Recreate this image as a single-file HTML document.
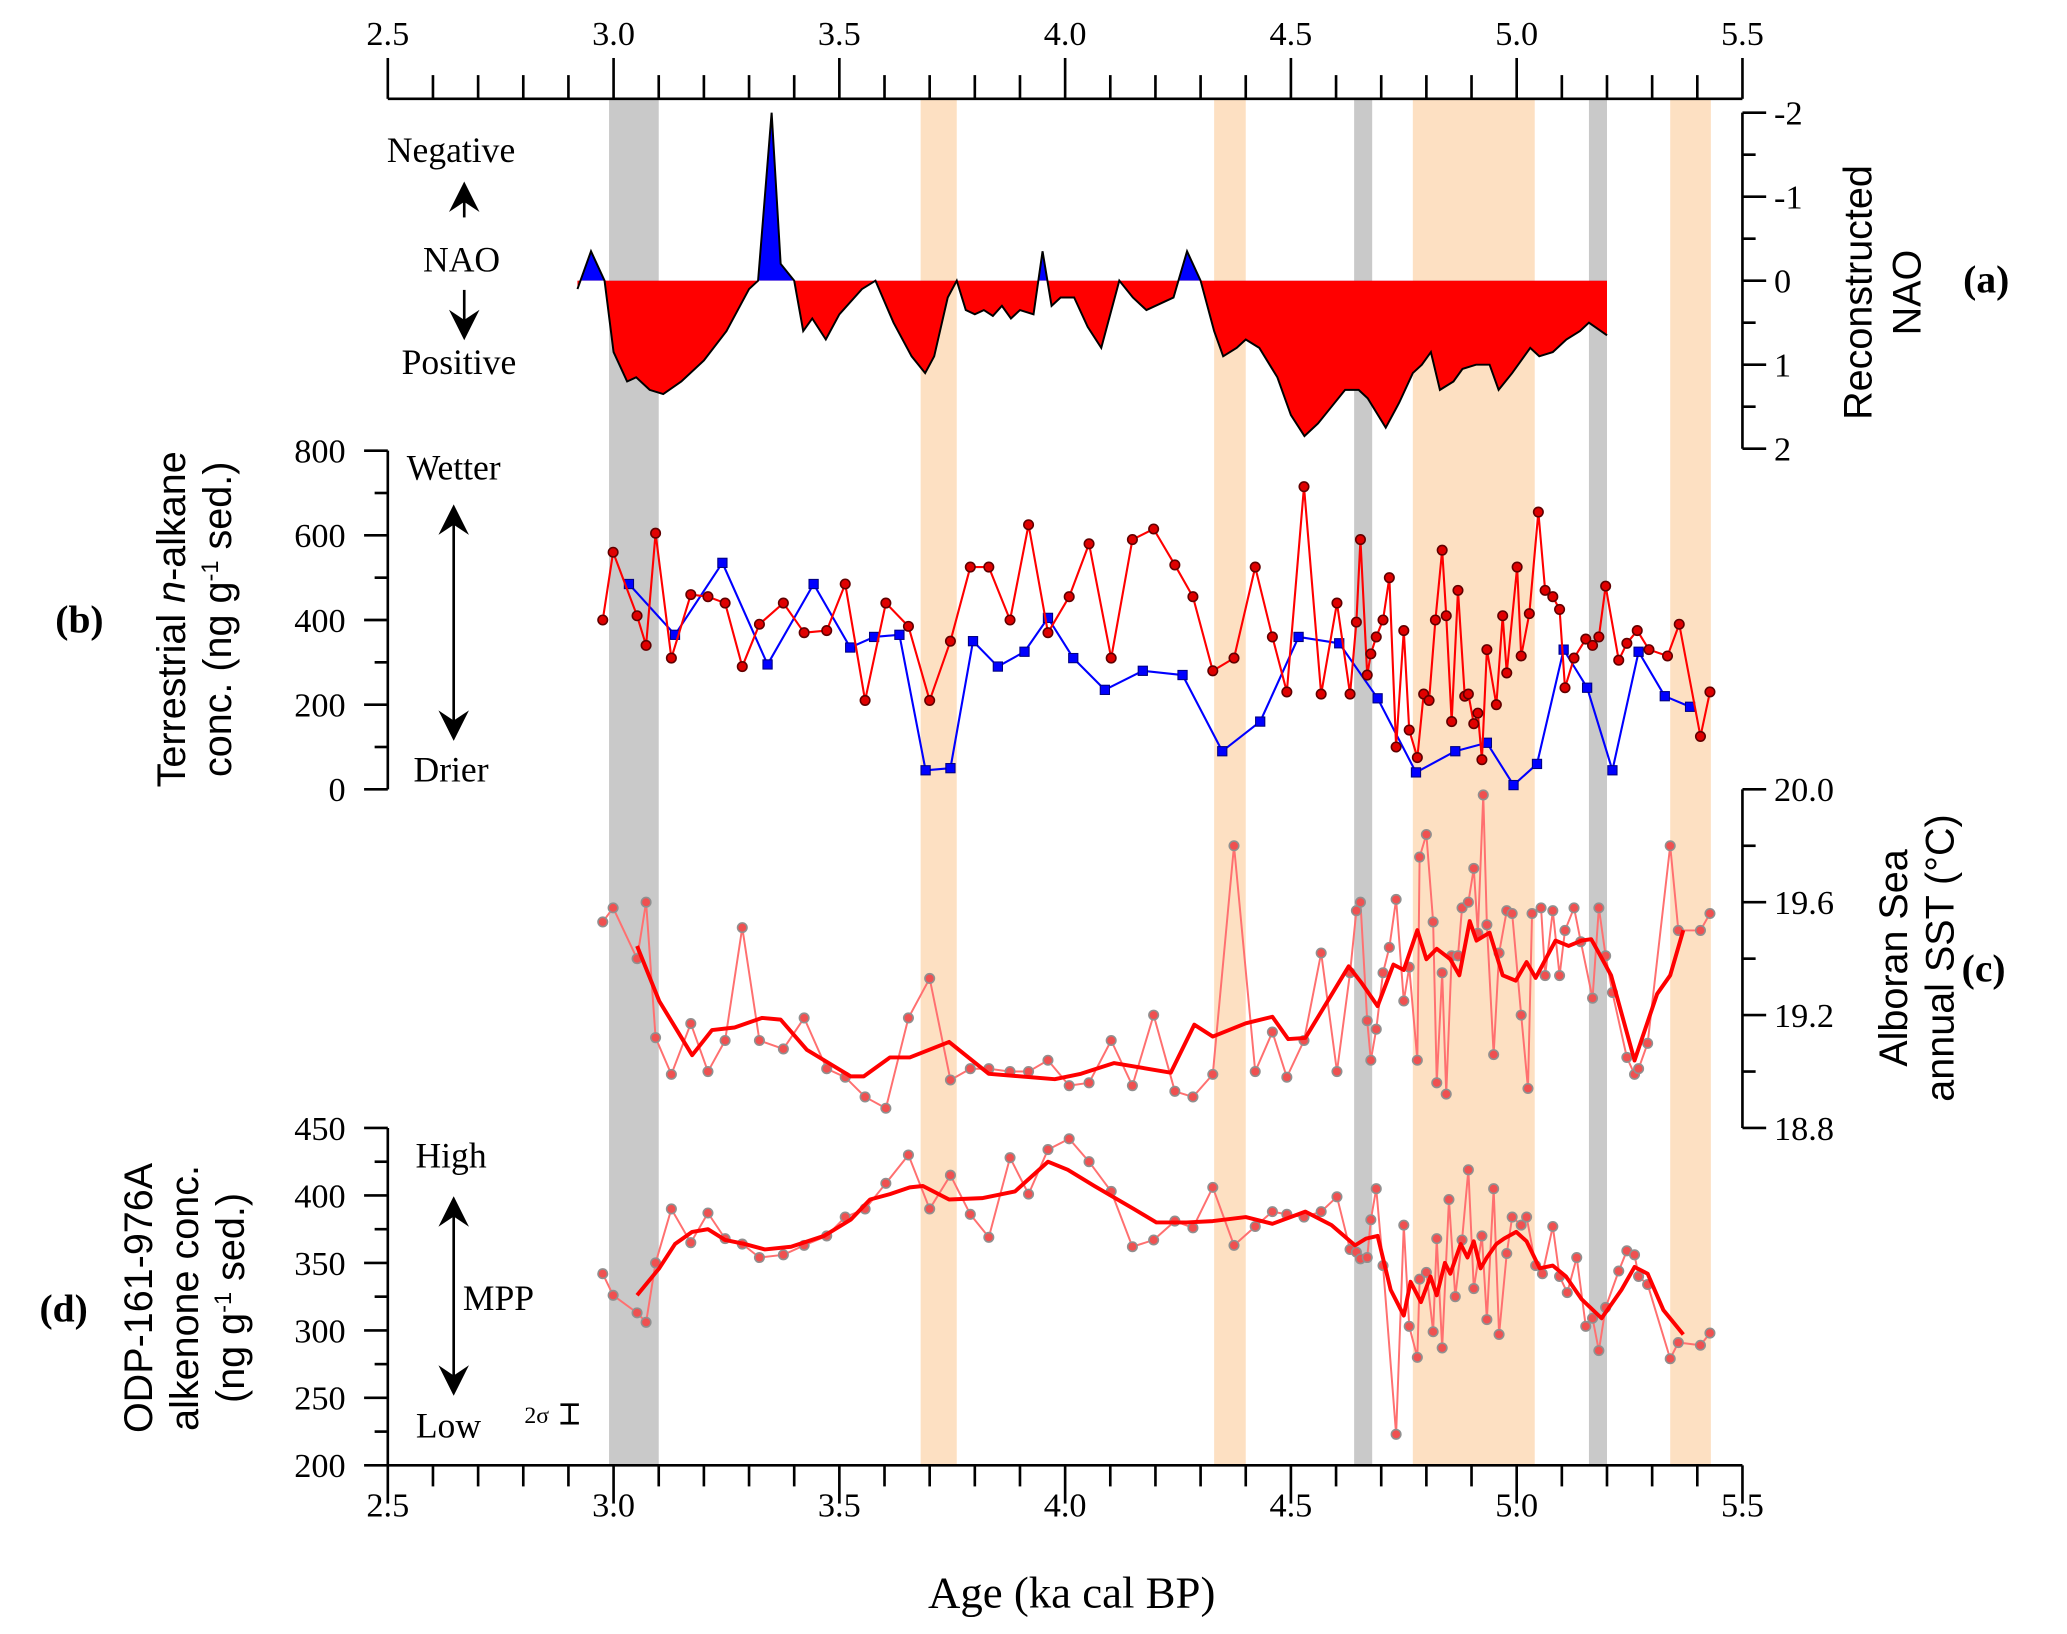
<!DOCTYPE html>
<html><head><meta charset="utf-8"><title>NAO and proxy records</title>
<style>
html,body{margin:0;padding:0;background:#fff;}
svg{display:block;font-family:"Liberation Serif",serif;}
</style></head>
<body>
<svg id="chart" width="2067" height="1634" viewBox="0 0 1568 1240" xmlns="http://www.w3.org/2000/svg">
<g id="bands"></g>
<g id="marks"></g>
<g id="axes" stroke="#000" stroke-width="2" fill="none"></g>
<g id="labels" fill="#000"></g>
</svg>
<script>
// ---- data ----
const bandStarts=[2.99,3.68,4.33,4.64,4.77,5.16,5.34];
const bandEnds=[3.10,3.76,4.40,4.68,5.04,5.20,5.43];
const bandTypes=['grey','orange','orange','grey','orange','grey','orange'];

const naoAge=[2.92,2.95,2.98,3.00,3.03,3.05,3.08,3.11,3.15,3.20,3.25,3.30,3.32,3.35,3.37,3.40,3.42,3.44,3.47,3.50,3.55,3.58,3.62,3.66,3.69,3.71,3.74,3.76,3.78,3.80,3.82,3.84,3.86,3.88,3.90,3.93,3.95,3.97,3.99,4.02,4.05,4.08,4.12,4.15,4.18,4.22,4.24,4.27,4.30,4.33,4.35,4.38,4.40,4.43,4.47,4.50,4.53,4.56,4.59,4.62,4.65,4.67,4.71,4.74,4.77,4.79,4.81,4.83,4.86,4.88,4.91,4.94,4.96,4.99,5.03,5.05,5.08,5.11,5.14,5.16,5.20];
const naoVal=[0.1,-0.35,0,0.85,1.2,1.15,1.3,1.35,1.2,0.95,0.6,0.1,0,-2.0,-0.2,0,0.6,0.45,0.7,0.4,0.1,0.0,0.5,0.9,1.1,0.9,0.2,0.0,0.35,0.4,0.35,0.42,0.3,0.45,0.35,0.4,-0.35,0.3,0.2,0.2,0.55,0.8,0.0,0.2,0.35,0.25,0.2,-0.35,0.0,0.6,0.9,0.8,0.7,0.8,1.15,1.6,1.85,1.7,1.5,1.3,1.3,1.4,1.75,1.45,1.1,1.0,0.85,1.3,1.2,1.05,1.0,1.0,1.3,1.1,0.8,0.9,0.85,0.7,0.6,0.5,0.65];

const alkRedAge=[2.976,2.999,3.052,3.072,3.093,3.128,3.171,3.209,3.247,3.285,3.323,3.376,3.422,3.472,3.513,3.557,3.603,3.653,3.700,3.746,3.790,3.831,3.878,3.919,3.962,4.009,4.053,4.102,4.149,4.196,4.243,4.283,4.327,4.374,4.421,4.459,4.491,4.529,4.567,4.602,4.631,4.645,4.654,4.669,4.677,4.689,4.704,4.718,4.733,4.750,4.762,4.780,4.794,4.806,4.820,4.835,4.844,4.856,4.870,4.885,4.893,4.905,4.914,4.923,4.934,4.955,4.969,4.978,5.001,5.010,5.028,5.048,5.063,5.080,5.095,5.107,5.127,5.153,5.168,5.182,5.197,5.226,5.244,5.267,5.293,5.334,5.360,5.407,5.428];
const alkRedVal=[400,560,410,340,605,310,460,455,440,290,390,440,370,375,485,210,440,385,210,350,525,525,400,625,370,455,580,310,590,615,530,455,280,310,525,360,230,715,225,440,225,395,590,270,320,360,400,500,100,375,140,75,225,210,400,565,410,160,470,220,225,155,180,70,330,200,410,275,525,315,415,655,470,455,425,240,310,355,340,360,480,305,345,375,330,315,390,125,230];

const alkBlueAge=[3.034,3.136,3.241,3.341,3.443,3.524,3.577,3.633,3.691,3.746,3.796,3.851,3.910,3.962,4.018,4.088,4.172,4.260,4.348,4.432,4.517,4.607,4.692,4.777,4.864,4.934,4.993,5.045,5.104,5.156,5.212,5.270,5.328,5.384];
const alkBlueVal=[485,365,535,295,485,335,360,365,45,50,350,290,325,405,310,235,280,270,90,160,360,345,215,40,90,110,10,60,330,240,45,325,220,195];

const sstAge=[2.976,2.999,3.052,3.072,3.093,3.128,3.171,3.209,3.247,3.285,3.323,3.376,3.422,3.472,3.513,3.557,3.603,3.653,3.700,3.746,3.790,3.831,3.878,3.919,3.962,4.009,4.053,4.102,4.149,4.196,4.243,4.283,4.327,4.374,4.421,4.459,4.491,4.529,4.567,4.602,4.631,4.645,4.654,4.669,4.677,4.689,4.704,4.718,4.733,4.750,4.762,4.780,4.785,4.800,4.815,4.823,4.835,4.844,4.856,4.870,4.879,4.893,4.905,4.914,4.926,4.934,4.949,4.961,4.978,4.990,5.010,5.025,5.034,5.054,5.063,5.080,5.095,5.107,5.127,5.142,5.168,5.182,5.197,5.212,5.244,5.261,5.270,5.290,5.340,5.358,5.407,5.428];
const sstVal=[19.53,19.58,19.40,19.60,19.12,18.99,19.17,19.0,19.11,19.51,19.11,19.08,19.19,19.01,18.98,18.91,18.87,19.19,19.33,18.97,19.01,19.01,19.0,19.0,19.04,18.95,18.96,19.11,18.95,19.2,18.93,18.91,18.99,19.8,19.0,19.14,18.98,19.11,19.42,19.0,19.35,19.57,19.6,19.18,19.04,19.15,19.35,19.44,19.61,19.25,19.37,19.04,19.76,19.84,19.53,18.96,19.35,18.92,19.41,19.41,19.58,19.6,19.72,19.49,19.98,19.52,19.06,19.42,19.57,19.56,19.2,18.94,19.56,19.58,19.34,19.57,19.34,19.5,19.58,19.46,19.26,19.58,19.41,19.28,19.05,18.99,19.01,19.1,19.8,19.5,19.5,19.56];

const sstSmAge=[3.052,3.101,3.174,3.218,3.268,3.329,3.370,3.428,3.525,3.554,3.612,3.656,3.743,3.831,3.977,4.035,4.108,4.234,4.286,4.327,4.400,4.459,4.494,4.532,4.628,4.657,4.692,4.727,4.750,4.780,4.800,4.823,4.853,4.873,4.896,4.911,4.940,4.969,4.998,5.022,5.042,5.086,5.115,5.144,5.165,5.180,5.209,5.261,5.311,5.340,5.369];
const sstSmVal=[19.445,19.25,19.058,19.147,19.156,19.19,19.184,19.077,18.983,18.983,19.05,19.05,19.105,18.992,18.973,18.992,19.03,18.996,19.166,19.124,19.171,19.194,19.115,19.119,19.373,19.313,19.232,19.379,19.36,19.501,19.398,19.435,19.398,19.341,19.533,19.464,19.492,19.341,19.322,19.388,19.332,19.464,19.445,19.464,19.469,19.426,19.341,19.039,19.275,19.341,19.501];

const alkeAge=[2.976,2.999,3.052,3.072,3.093,3.128,3.171,3.209,3.247,3.285,3.323,3.376,3.422,3.472,3.513,3.557,3.603,3.653,3.700,3.746,3.790,3.831,3.878,3.919,3.962,4.009,4.053,4.102,4.149,4.196,4.243,4.283,4.327,4.374,4.421,4.459,4.491,4.529,4.567,4.602,4.631,4.645,4.654,4.669,4.677,4.689,4.704,4.733,4.750,4.762,4.780,4.785,4.800,4.815,4.823,4.835,4.850,4.864,4.879,4.893,4.905,4.923,4.934,4.949,4.961,4.978,4.990,5.010,5.022,5.042,5.057,5.080,5.095,5.112,5.133,5.153,5.168,5.182,5.197,5.226,5.244,5.261,5.270,5.290,5.340,5.358,5.407,5.428];
const alkeVal=[342,326,313,306,350,390,365,387,368,364,354,356,363,370,384,390,409,430,390,415,386,369,428,401,434,442,425,403,362,367,381,376,406,363,377,388,386,384,388,399,360,358,353,354,382,405,348,223,378,303,280,338,343,299,368,287,397,325,367,419,331,370,308,405,297,357,384,378,384,348,342,377,340,328,354,303,309,285,317,344,359,356,340,334,279,291,289,298];

const alkeSmAge=[3.052,3.101,3.136,3.174,3.209,3.247,3.291,3.335,3.393,3.466,3.525,3.568,3.612,3.656,3.685,3.743,3.816,3.889,3.962,4.006,4.065,4.152,4.202,4.269,4.327,4.400,4.459,4.532,4.590,4.642,4.666,4.692,4.721,4.750,4.765,4.788,4.809,4.823,4.841,4.853,4.876,4.891,4.905,4.920,4.934,4.955,4.972,4.999,5.022,5.051,5.080,5.109,5.144,5.188,5.232,5.261,5.290,5.325,5.369];
const alkeSmVal=[326,346,364,373,375,367,364,360,362,370,382,397,401,406,407,397,398,403,425,419,407,390,380,380,381,384,379,388,378,363,368,370,330,311,336,321,340,326,350,342,364,354,366,346,354,364,368,373,366,346,348,340,323,309,330,347,342,315,297];

const xTicks=['2.5','3.0','3.5','4.0','4.5','5.0','5.5'];
const naoTicks=['-2','-1','0','1','2'];
const alkTicks=['0','200','400','600','800'];
const sstTicks=['18.8','19.2','19.6','20.0'];
const alkeTicks=['200','250','300','350','400','450'];

// ---- scales ----
const X=a=>294+(a-2.5)*342.67;
const Ynao=v=>213+v*63.75;
const Yalk=v=>599-v*257/800;
const Ysst=v=>599+(20-v)*257/1.2;
const Yalke=v=>1112-(v-200)*256/250;

const NS='http://www.w3.org/2000/svg';
function mk(tag,attrs,parent){const e=document.createElementNS(NS,tag);for(const k in attrs)e.setAttribute(k,attrs[k]);parent.appendChild(e);return e;}
const bands=document.getElementById('bands'),marks=document.getElementById('marks'),axes=document.getElementById('axes'),labels=document.getElementById('labels');

bandStarts.forEach((s,i)=>{
  const r=mk('rect',{x:X(s),y:75,width:X(bandEnds[i])-X(s),height:1037,fill:bandTypes[i]==='grey'?'#c9c9c9':'#fde0c2'},bands);
  
  
});

let pts=naoAge.map((a,i)=>X(a)+','+Ynao(naoVal[i]));
const areaD='M'+X(naoAge[0])+','+Ynao(0)+' L'+pts.join(' L')+' L'+X(naoAge[naoAge.length-1])+','+Ynao(0)+' Z';
const defs=mk('defs',{},marks);
const cu=mk('clipPath',{id:'cu'},defs);mk('rect',{x:0,y:0,width:1568,height:Ynao(0)},cu);
const cd=mk('clipPath',{id:'cd'},defs);mk('rect',{x:0,y:Ynao(0),width:1568,height:400},cd);
const na=mk('path',{d:areaD,fill:'#0000ff','clip-path':'url(#cu)'},marks);


const pa=mk('path',{d:areaD,fill:'#ff0000','clip-path':'url(#cd)'},marks);


const nl=mk('polyline',{points:pts.join(' '),fill:'none',stroke:'#000','stroke-width':1.5},marks);



function series(ages,vals,Y,name,color,width,marker,mcol,mstroke){
  const g=mk('g',{},marks);
  
  
  mk('polyline',{points:ages.map((a,i)=>X(a)+','+Y(vals[i])).join(' '),fill:'none',stroke:color,'stroke-width':width,'stroke-linejoin':'round'},g);
  if(marker){
    ages.forEach((a,i)=>{
      let m;
      if(marker==='sq') m=mk('rect',{x:X(a)-3.5,y:Y(vals[i])-3.5,width:7,height:7,fill:mcol,stroke:mstroke,'stroke-width':0.8},g);
      else m=mk('circle',{cx:X(a),cy:Y(vals[i]),r:3.6,fill:mcol,stroke:mstroke,'stroke-width':1.2},g);
      
      
    });
  }
}
series(alkBlueAge,alkBlueVal,Yalk,'alkane-blue-series','#0000ff',1.6,'sq','#0000ff','#000080');
series(alkRedAge,alkRedVal,Yalk,'alkane-red-series','#ff0000',1.6,'c','#e00000','#600000');
series(sstAge,sstVal,Ysst,'sst-raw-series','#ff7070',1.5,'c','#f05050','#909090');
series(sstSmAge,sstSmVal,Ysst,'sst-smooth-series','#ff0000',3,null);
series(alkeAge,alkeVal,Yalke,'alkenone-raw-series','#ff7070',1.5,'c','#f05050','#909090');
series(alkeSmAge,alkeSmVal,Yalke,'alkenone-smooth-series','#ff0000',3,null);

function line(x1,y1,x2,y2,p){mk('line',{x1,y1,x2,y2},p||axes);}
function text(x,y,s,opt){const t=mk('text',Object.assign({x,y,'font-size':26,'text-anchor':'middle'},opt||{}),labels);t.textContent=s;return t;}
line(294,75,1322,75);
for(let i=0;i<=30;i++){const a=2.5+i*0.1,x=X(a);line(x,75,x,i%5===0?44:57);}
xTicks.forEach(s=>{const t=text(X(+s),34,s);});
line(294,1112,1322,1112);
for(let i=0;i<=30;i++){const a=2.5+i*0.1,x=X(a);line(x,1112,x,i%5===0?1141:1128);}
xTicks.forEach(s=>{const t=text(X(+s),1151,s);});
{const t=text(813,1220,'Age (ka cal BP)',{'font-size':34});}
line(1322,Ynao(-2),1322,Ynao(2));
for(let v=-2;v<=2.001;v+=0.5){line(1322,Ynao(v),1322+(Math.abs(v%1)<0.01?18:10),Ynao(v));}
naoTicks.forEach(s=>{const t=text(1346,Ynao(+s)+9,s,{'text-anchor':'start'});});
{const t=text(0,0,'Reconstructed',{'font-size':30,transform:'translate(1420,222) rotate(-90)','font-family':'Liberation Sans, sans-serif'});
 const t2=text(0,0,'NAO',{'font-size':30,transform:'translate(1457,222) rotate(-90)','font-family':'Liberation Sans, sans-serif'});}
line(294,Yalk(0),294,Yalk(800));
for(let v=0;v<=800;v+=100){line(294,Yalk(v),v%200===0?276:284,Yalk(v));}
alkTicks.forEach(s=>{const t=text(262,Yalk(+s)+9,s,{'text-anchor':'end'});});
line(1322,Ysst(20),1322,Ysst(18.8));
for(let k=0;k<=6;k++){const v=18.8+k*0.2;line(1322,Ysst(v),1322+(k%2===0?18:10),Ysst(v));}
sstTicks.forEach(s=>{const t=text(1346,Ysst(+s)+9,s,{'text-anchor':'start'});});
line(294,Yalke(200),294,Yalke(450));
for(let v=200;v<=450;v+=25){line(294,Yalke(v),v%50===0?276:284,Yalke(v));}
alkeTicks.forEach(s=>{const t=text(262,Yalke(+s)+9,s,{'text-anchor':'end'});});

function arrow(x,y1,y2,up,down,name){
  const g=mk('g',{stroke:'#000','stroke-width':2,fill:'#000'},labels);
  
  
  mk('line',{x1:x,y1:y1+(up?6:0),x2:x,y2:y2-(down?6:0)},g);
  if(up)mk('path',{d:`M${x},${y1} L${x-9},${y1+18} L${x},${y1+12} L${x+9},${y1+18} Z`},g);
  if(down)mk('path',{d:`M${x},${y2} L${x-9},${y2-18} L${x},${y2-12} L${x+9},${y2-18} Z`},g);
}
arrow(352,140,165,true,false,'nao-negative-arrow');
arrow(352,220,256,false,true,'nao-positive-arrow');
arrow(344,385,560,true,true,'wetter-drier-arrow');
arrow(344,910,1057,true,true,'high-low-arrow');

const L=[
 [342,123,'Negative',27,'negative-label'],[350,206,'NAO',27,'nao-label'],[348,284,'Positive',27,'positive-label'],
 [344,364,'Wetter',27,'wetter-label'],[342,593,'Drier',27,'drier-label'],
 [342,886,'High',27,'high-label'],[378,994,'MPP',27,'mpp-label'],[340,1091,'Low',27,'low-label'],[407,1080,'2σ',18,'two-sigma-label']
];
L.forEach(l=>{const t=text(l[0],l[1],l[2],{'font-size':l[3]});});
{const g=mk('g',{stroke:'#000','stroke-width':2},labels);
 mk('line',{x1:432,y1:1066,x2:432,y2:1080},g);mk('line',{x1:425,y1:1066,x2:439,y2:1066},g);mk('line',{x1:425,y1:1080,x2:439,y2:1080},g);}

const P=[[1507,222,'(a)','panel-a-label'],[60,480,'(b)','panel-b-label'],[1505,745,'(c)','panel-c-label'],[48,1003,'(d)','panel-d-label']];
P.forEach(p=>{const t=text(p[0],p[1],p[2],{'font-size':30,'font-weight':'bold'});});

function rtext(x,y,s,name,sans){const t=text(0,0,'',{'font-size':30,transform:`translate(${x},${y}) rotate(-90)`});if(sans)t.setAttribute('font-family','Liberation Sans, sans-serif');t.innerHTML=s;return t;}
rtext(140,470,'Terrestrial <tspan font-style="italic">n</tspan>-alkane','alkane-axis-title',true);
rtext(175,470,'conc. (ng g<tspan font-size="18" dy="-10">-1</tspan><tspan dy="10"> sed.)</tspan>','alkane-axis-title-2',true);
rtext(1447,727,'Alboran Sea','sst-axis-title',true);
rtext(1482,727,'annual SST (°C)','sst-axis-title-2',true);
rtext(115,985,'ODP-161-976A','alkenone-axis-title',true);
rtext(150,985,'alkenone conc.','alkenone-axis-title-2',true);
rtext(185,985,'(ng g<tspan font-size="18" dy="-10">-1</tspan><tspan dy="10"> sed.)</tspan>','alkenone-axis-title-3',true);
</script>
</body></html>
